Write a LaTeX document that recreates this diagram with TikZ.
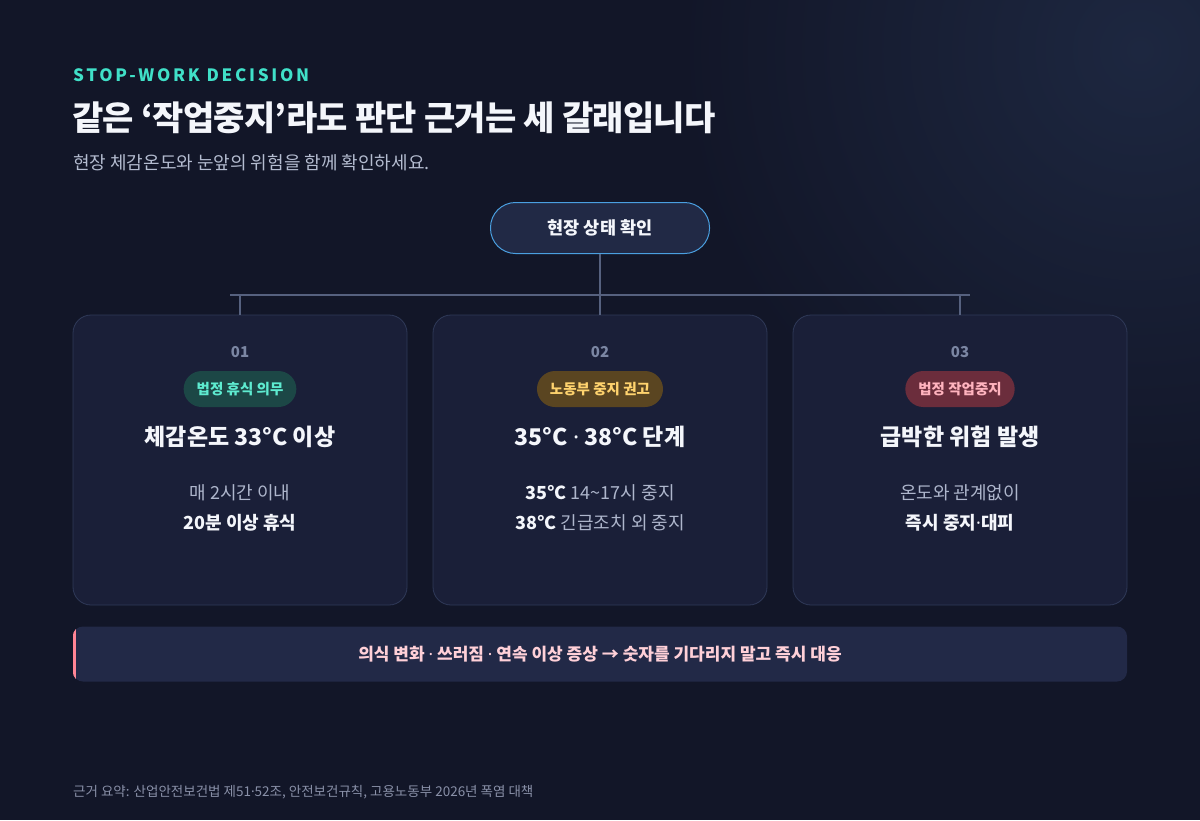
\documentclass[tikz,border=0pt]{standalone}
\usepackage{fontspec}
\setmainfont{Noto Sans CJK KR}
\newfontfamily\eyebrowfont[LetterSpace=16]{Noto Sans CJK KR}
\newfontfamily\titlefont[LetterSpace=-2]{Noto Sans CJK KR}
\newfontfamily\dotfont{Noto Sans}
\newcommand\mdot{{\dotfont ·}}
\usetikzlibrary{positioning}

\definecolor{bgnavy}{HTML}{121628}
\definecolor{bgglow}{HTML}{1D2740}
\definecolor{cardfill}{HTML}{1A1F38}
\definecolor{cardline}{HTML}{2F3958}
\definecolor{linkgray}{HTML}{56617F}
\definecolor{eyeteal}{HTML}{40E0C8}
\definecolor{titlewhite}{HTML}{F4F6FB}
\definecolor{subgray}{HTML}{B4BCD0}
\definecolor{numgray}{HTML}{7B86A3}
\definecolor{bodygray}{HTML}{AEB6CC}
\definecolor{pillfill}{HTML}{212945}
\definecolor{pillblue}{HTML}{4A9FE0}
\definecolor{tealbg}{HTML}{1C4746}
\definecolor{tealtx}{HTML}{5EEBD0}
\definecolor{goldbg}{HTML}{5A4521}
\definecolor{goldtx}{HTML}{FFD36E}
\definecolor{redbg}{HTML}{6B2D3C}
\definecolor{redtx}{HTML}{FFB3BE}
\definecolor{alertfill}{HTML}{222947}
\definecolor{alerttx}{HTML}{FFD0D8}
\definecolor{alertpink}{HTML}{FF8595}
\definecolor{footgray}{HTML}{8990A8}

\begin{document}
\begin{tikzpicture}[x=1pt,y=-1pt,
    link/.style={draw=linkgray,line width=1.6pt},
    card/.style={draw=cardline,fill=cardfill,line width=0.8pt,rounded corners=18pt,
        minimum width=334pt,minimum height=290pt,inner sep=0pt},
    pill/.style={draw=pillblue,fill=pillfill,line width=1pt,rounded corners=25pt,
        minimum width=219pt,minimum height=51pt,text=titlewhite,
        font=\bfseries\fontsize{17.5}{20}\selectfont},
    badge/.style={rounded corners=18pt,minimum height=36pt,inner xsep=13pt,
        font=\bfseries\fontsize{14.5}{17}\selectfont},
    numtxt/.style={text=numgray,font=\bfseries\fontsize{15}{17}\selectfont},
    headtxt/.style={text=titlewhite,font=\bfseries\fontsize{23}{27}\selectfont},
    bodytxt/.style={text=bodygray,font=\fontsize{18}{21}\selectfont},
    boldtxt/.style={text=titlewhite,font=\bfseries\fontsize{18}{21}\selectfont}]

    \useasboundingbox (0,0) rectangle (1200,820);
    % background
    \fill[bgnavy] (0,0) rectangle (1200,820);
    \begin{scope}
        \clip (0,0) rectangle (1200,820);
        \shade[inner color=bgglow,outer color=bgnavy] (1140,50) circle (460);
    \end{scope}

    % heading block
    \node[anchor=west,inner sep=0pt,text=eyeteal,font=\eyebrowfont\bfseries\fontsize{17}{19}\selectfont]
        (eyebrow) at (73,75) {STOP-WORK DECISION};
    \node[anchor=west,inner sep=0pt,text=titlewhite,font=\titlefont\bfseries\fontsize{34}{40}\selectfont]
        (title) at (72,118) {같은 ‘작업중지’라도 판단 근거는 세 갈래입니다};
    \node[anchor=west,inner sep=0pt,text=subgray,font=\fontsize{18}{21}\selectfont]
        (subtitle) at (73,163) {현장 체감온도와 눈앞의 위험을 함께 확인하세요.};

    % root and cards
    \node[pill] (check) at (600,228) {현장 상태 확인};
    \foreach \i/\cx in {1/240,2/600,3/960}{
        \node[card] (card\i) at (\cx,460) {};
        \node[numtxt] (num\i) at (\cx,352) {0\i};
    }

    % tree connectors
    \coordinate (bus) at (600,295);
    \coordinate (busL) at (230,295);
    \coordinate (busR) at (970,295);
    \draw[link] (check.south) -- (bus);
    \draw[link] (busL) -- (busR);
    \foreach \i in {1,2,3}
        \draw[link] (card\i.north |- bus) -- (card\i.north);

    % card 1
    \node[badge,fill=tealbg,text=tealtx] (tag1) at (240,389) {법정 휴식 의무};
    \node[headtxt] (head1) at (240,437) {체감온도 33°C 이상};
    \node[bodytxt] (lineA1) at (240,493) {매 2시간 이내};
    \node[boldtxt] (lineB1) at (240,523) {20분 이상 휴식};

    % card 2
    \node[badge,fill=goldbg,text=goldtx] (tag2) at (600,389) {노동부 중지 권고};
    \node[headtxt] (head2) at (600,437) {35°C \mdot{} 38°C 단계};
    \node[bodytxt] (lineA2) at (600,493) {\textcolor{titlewhite}{\bfseries 35°C} 14\textasciitilde17시 중지};
    \node[bodytxt] (lineB2) at (600,523) {\textcolor{titlewhite}{\bfseries 38°C} 긴급조치 외 중지};

    % card 3
    \node[badge,fill=redbg,text=redtx] (tag3) at (960,389) {법정 작업중지};
    \node[headtxt] (head3) at (960,437) {급박한 위험 발생};
    \node[bodytxt] (lineA3) at (960,493) {온도와 관계없이};
    \node[boldtxt] (lineB3) at (960,523) {즉시 중지\mdot{}대피};

    % alert banner
    \node[fill=alertfill,rounded corners=10pt,minimum width=1054pt,minimum height=55pt,
        inner sep=0pt,text=alerttx,font=\bfseries\fontsize{17}{19}\selectfont]
        (alert) at (600,654) {의식 변화 \mdot{} 쓰러짐 \mdot{} 연속 이상 증상 → 숫자를 기다리지 말고 즉시 대응};
    \begin{scope}
        \clip[rounded corners=10pt] (alert.north west) rectangle (alert.south east);
        \fill[alertpink] (alert.north west) rectangle ([xshift=3.5pt]alert.south west);
    \end{scope}

    % source line
    \node[anchor=west,inner sep=0pt,text=footgray,font=\fontsize{13.5}{16}\selectfont]
        (source) at (73,792) {근거 요약: 산업안전보건법 제51\mdot{}52조, 안전보건규칙, 고용노동부 2026년 폭염 대책};
\end{tikzpicture}
\end{document}
